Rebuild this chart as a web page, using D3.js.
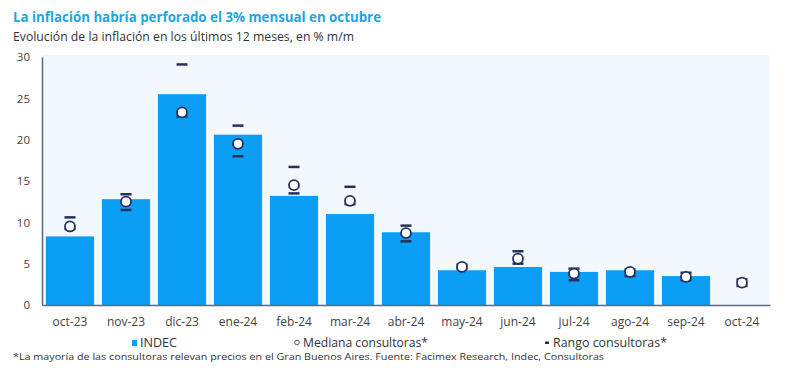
<!DOCTYPE html>
<html><head><meta charset="utf-8">
<script src="https://cdn.jsdelivr.net/npm/d3@7"></script>
<style>body{margin:0;background:#fff;}svg{display:block;font-family:"Open Sans",sans-serif;}</style>
</head><body><svg id="c" width="800" height="375"></svg>
<script>
const categories = ["oct-23","nov-23","dic-23","ene-24","feb-24","mar-24","abr-24","may-24","jun-24","jul-24","ago-24","sep-24","oct-24"];
const indec = [8.3,12.8,25.5,20.6,13.2,11.0,8.8,4.2,4.6,4.0,4.2,3.5,null];
const mediana = [9.5,12.5,23.3,19.5,14.5,12.6,8.7,4.6,5.6,3.8,4.0,3.4,2.7];
const rangoMin = [9.2,11.5,22.8,18.0,13.5,12.2,7.7,4.4,5.0,3.0,3.5,3.0,2.3];
const rangoMax = [10.6,13.4,29.1,21.7,16.7,14.3,9.6,4.9,6.5,4.4,4.3,3.9,3.1];
const yTicks = [0,5,10,15,20,25,30];

const svg = d3.select("#c");
const m = {l:42, r:770, t:57, b:305};
const x = d3.scaleBand().domain(categories).range([m.l, m.r]).paddingInner(0.14).paddingOuter(0.07);
const y = d3.scaleLinear().domain([0,30]).range([m.b, m.t]);
const navy = "#27305a";

svg.append("text").attr("x",13).attr("y",22).attr("fill","#1aa7e6").attr("font-size",13.5).attr("font-weight",700)
  .attr("textLength",368).attr("lengthAdjust","spacingAndGlyphs")
  .text("La inflación habría perforado el 3% mensual en octubre");
svg.append("text").attr("x",13).attr("y",40.5).attr("fill","#333").attr("font-size",11.8)
  .attr("textLength",341).attr("lengthAdjust","spacingAndGlyphs")
  .text("Evolución de la inflación en los últimos 12 meses, en % m/m");

svg.append("rect").attr("x",m.l).attr("y",m.t-2).attr("width",m.r-m.l).attr("height",m.b-m.t+2).attr("fill","#f2f8fd");

const data = categories.map((c,i)=>({c, v:indec[i], med:mediana[i], lo:rangoMin[i], hi:rangoMax[i]}));

svg.append("g").selectAll("rect").data(data.filter(d=>d.v!=null)).join("rect")
  .attr("x",d=>x(d.c)).attr("width",x.bandwidth()).attr("y",d=>y(d.v)).attr("height",d=>y(0)-y(d.v)).attr("fill","#0a9ef5");

// y axis
const ya = svg.append("g").attr("transform",`translate(${m.l},0)`).call(d3.axisLeft(y).tickValues(yTicks).tickSize(0).tickPadding(12));
ya.select(".domain").attr("stroke","#5c6785").attr("stroke-width",1.5);
ya.selectAll("text").attr("font-size",11.5).attr("fill","#444").attr("font-family","Open Sans");

// x axis
const xa = svg.append("g").attr("transform",`translate(0,${m.b})`).call(d3.axisBottom(x).tickSize(0).tickPadding(12));
xa.select(".domain").attr("stroke","#5c6785").attr("stroke-width",1.5);
xa.selectAll("text").attr("font-size",12).attr("fill","#444").attr("font-family","Open Sans");

const dashW = 11;
const g = svg.append("g");
g.selectAll("line.hi").data(data).join("line").attr("class","hi")
  .attr("x1",d=>x(d.c)+x.bandwidth()/2-dashW/2).attr("x2",d=>x(d.c)+x.bandwidth()/2+dashW/2)
  .attr("y1",d=>y(d.hi)).attr("y2",d=>y(d.hi)).attr("stroke",navy).attr("stroke-width",2.5);
g.selectAll("line.lo").data(data).join("line").attr("class","lo")
  .attr("x1",d=>x(d.c)+x.bandwidth()/2-dashW/2).attr("x2",d=>x(d.c)+x.bandwidth()/2+dashW/2)
  .attr("y1",d=>y(d.lo)).attr("y2",d=>y(d.lo)).attr("stroke",navy).attr("stroke-width",2.5);
g.selectAll("circle").data(data).join("circle")
  .attr("cx",d=>x(d.c)+x.bandwidth()/2).attr("cy",d=>y(d.med)).attr("r",5)
  .attr("fill","#fff").attr("stroke",navy).attr("stroke-width",1.8);

// legend
const lg = svg.append("g").attr("font-size",12).attr("fill","#333");
lg.append("rect").attr("x",132).attr("y",340).attr("width",5).attr("height",6).attr("fill","#0a9ef5");
lg.append("text").attr("x",140).attr("y",346.5).attr("textLength",37).attr("lengthAdjust","spacingAndGlyphs").text("INDEC");
lg.append("circle").attr("cx",297).attr("cy",342.5).attr("r",2.3).attr("fill","#fff").attr("stroke","#555").attr("stroke-width",1);
lg.append("text").attr("x",303).attr("y",346.5).attr("textLength",125).attr("lengthAdjust","spacingAndGlyphs").text("Mediana consultoras*");
lg.append("rect").attr("x",545).attr("y",341.5).attr("width",4).attr("height",2.5).attr("fill",navy);
lg.append("text").attr("x",553).attr("y",346.5).attr("textLength",114).attr("lengthAdjust","spacingAndGlyphs").text("Rango consultoras*");

svg.append("text").attr("x",13).attr("y",360).attr("font-size",9.6).attr("fill","#333")
  .attr("textLength",591).attr("lengthAdjust","spacingAndGlyphs")
  .text("*La mayoría de las consultoras relevan precios en el Gran Buenos Aires. Fuente: Facimex Research, Indec, Consultoras");
</script></body></html>
